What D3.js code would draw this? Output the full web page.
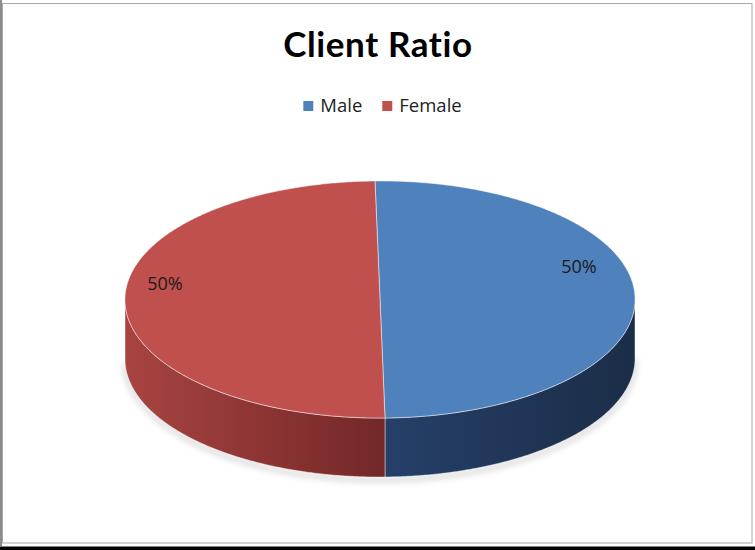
<!DOCTYPE html>
<html>
<head>
<meta charset="utf-8">
<script src="https://cdn.jsdelivr.net/npm/d3@7/dist/d3.min.js"></script>
<style>
  html, body { margin: 0; padding: 0; background: #fff; }
  svg { display: block; }
  text { font-variant-ligatures: none; }
</style>
</head>
<body>
<svg id="chart" width="755" height="550"></svg>
<script>
// Client ratio data
const categories = ["Male", "Female"];
const values = [50, 50];
const title = "Client Ratio";

const topColors = ["#4F81BD", "#C0504D"];
const sideColors = [["#26406a", "#1b2d47"], ["#a84441", "#742828"]];

const W = 755, H = 550;
const svg = d3.select("#chart");

// frame
svg.append("rect").attr("x", 0).attr("y", 0).attr("width", W).attr("height", H).attr("fill", "#fff");
svg.append("rect").attr("x", 0).attr("y", 0).attr("width", 2).attr("height", 546).attr("fill", "#8c8c8c");
svg.append("rect").attr("x", 2.5).attr("y", 3.5).attr("width", 749.5).attr("height", 539.5)
  .attr("fill", "none").attr("stroke", "#a8a8a8").attr("stroke-width", 1);
svg.append("rect").attr("x", 0).attr("y", 546.5).attr("width", W).attr("height", 4).attr("fill", "#000");

// title
svg.append("text")
  .attr("x", 378).attr("y", 57)
  .attr("text-anchor", "middle")
  .attr("font-family", "Lato, 'Open Sans', sans-serif")
  .attr("font-weight", "bold")
  .attr("font-size", 35)
  .attr("letter-spacing", 0.6)
  .attr("fill", "#000")
  .text(title);

// legend
const legend = svg.append("g");
const items = legend.selectAll("g").data(categories).join("g");
items.append("rect").attr("width", 10).attr("height", 10).attr("y", -11)
  .attr("fill", (d, i) => topColors[i]);
items.append("text").attr("x", 17).attr("y", 0)
  .attr("font-family", "'Open Sans', Lato, sans-serif")
  .attr("font-size", 18.5).attr("fill", "#222")
  .text(d => d);
let lx = 0;
const gap = 20;
items.each(function () {
  const w = this.getBBox().width;
  d3.select(this).attr("transform", `translate(${lx},0)`);
  lx += w + gap;
});
const legendW = lx - gap;
legend.attr("transform", `translate(${382.5 - legendW / 2},112)`);

// 3D pie geometry
const cx = 380, cy = 299.5, rx = 255, ry = 118.5, depth = 59, skew = 5, tilt = 2.5;
const proj = (a, z) => [cx + rx * Math.sin(a) - skew * Math.cos(a), cy - ry * Math.cos(a) - tilt * Math.sin(a) + z];

const pie = d3.pie().sort(null).value(d => d)(values);
const line = d3.line();
const arcPts = (a0, a1, z) => {
  const n = Math.max(2, Math.ceil(Math.abs(a1 - a0) / 0.01));
  return d3.range(n + 1).map(k => proj(a0 + (a1 - a0) * k / n, z));
};

const defs = svg.append("defs");
const shadow = defs.append("filter").attr("id", "soft").attr("x", "-10%").attr("y", "-10%").attr("width", "120%").attr("height", "130%");
shadow.append("feGaussianBlur").attr("stdDeviation", 3);

pie.forEach((p, i) => {
  const g = defs.append("linearGradient").attr("id", "side" + i)
    .attr("gradientUnits", "userSpaceOnUse")
    .attr("x1", i === 0 ? cx : cx - rx).attr("x2", i === 0 ? cx + rx : cx).attr("y1", 0).attr("y2", 0);
  g.append("stop").attr("offset", 0).attr("stop-color", sideColors[i][0]);
  g.append("stop").attr("offset", 1).attr("stop-color", sideColors[i][1]);
});

// soft shadow under the front rim
svg.append("path")
  .attr("d", line(arcPts(Math.PI / 2, 3 * Math.PI / 2, depth + 3)))
  .attr("fill", "none").attr("stroke", "#000").attr("stroke-opacity", 0.18)
  .attr("stroke-width", 4).attr("filter", "url(#soft)");

const pieG = svg.append("g");

// front walls
pie.forEach((p, i) => {
  const s0 = Math.max(p.startAngle, Math.PI / 2);
  const s1 = Math.min(p.endAngle, 3 * Math.PI / 2);
  if (s1 <= s0) return;
  const pts = arcPts(s0, s1, 0).concat(arcPts(s1, s0, depth));
  pieG.append("path")
    .attr("d", line(pts) + "Z")
    .attr("fill", `url(#side${i})`)
    .attr("stroke", "rgba(255,255,255,0.55)").attr("stroke-width", 0.8);
});

// top faces
pie.forEach((p, i) => {
  const pts = [[cx, cy]].concat(arcPts(p.startAngle, p.endAngle, 0));
  pieG.append("path")
    .attr("d", line(pts) + "Z")
    .attr("fill", topColors[i])
    .attr("stroke", "rgba(255,255,255,0.6)").attr("stroke-width", 0.8)
    .attr("stroke-linejoin", "round");
});

// percentage labels
const total = d3.sum(values);
const fmt = d3.format(".0%");
pie.forEach((p, i) => {
  const a = (p.startAngle + p.endAngle) / 2;
  const x = cx - 8 + 207 * Math.sin(a);
  const y = cy - 24.5 - 8.5 * Math.sin(a);
  svg.append("text")
    .attr("x", x).attr("y", y).attr("dy", "0.36em")
    .attr("text-anchor", "middle")
    .attr("font-family", "'Open Sans', Lato, sans-serif")
    .attr("font-size", 18).attr("fill", "#1a1a1a")
    .text(fmt(p.value / total));
});
</script>
</body>
</html>
